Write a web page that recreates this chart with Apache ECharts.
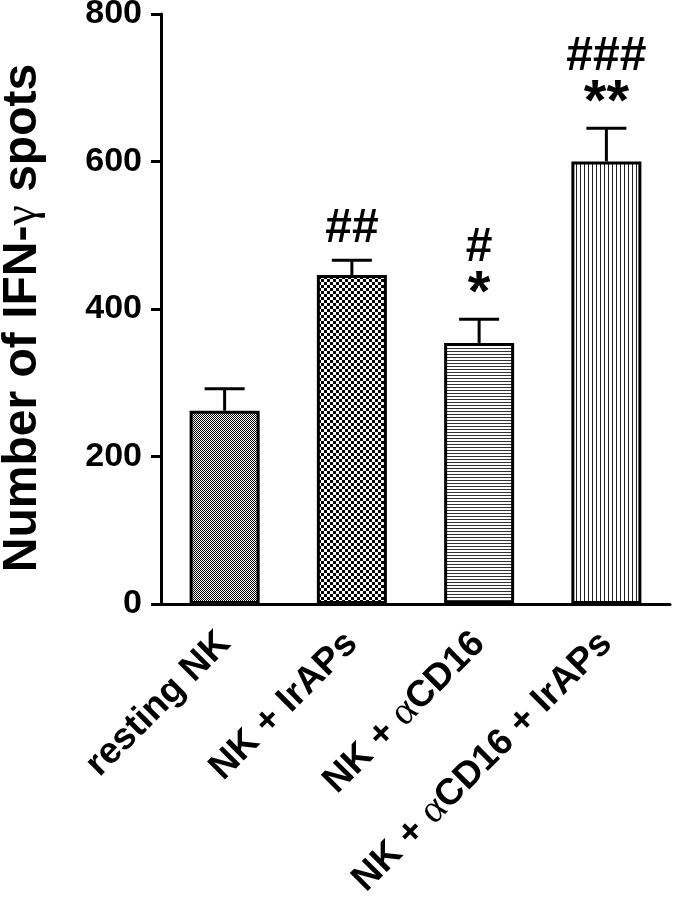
<!DOCTYPE html>
<html>
<head>
<meta charset="utf-8">
<script src="https://cdn.jsdelivr.net/npm/echarts@6/dist/echarts.min.js"></script>
<style>
  html, body { margin: 0; background: #fff; }
  #chart { width: 675px; height: 903px; }
</style>
</head>
<body>
<div id="chart"></div>
<script>
// data
const categories = ['resting NK', 'NK + IrAPs', 'NK + αCD16', 'NK + αCD16 + IrAPs'];
const means = [262, 446, 354, 600];
const sems = [30, 20, 32, 45];
const stars = ['', '', '*', '**'];
const hashes = ['', '##', '#', '###'];
const yTicks = [0, 200, 400, 600, 800];

const FONT = 'Liberation Sans';

function makePattern(kind) {
  const c = document.createElement('canvas');
  const ctx = c.getContext('2d');
  if (kind === 'fine') {
    c.width = 2; c.height = 2;
    ctx.fillStyle = '#fff'; ctx.fillRect(0, 0, 2, 2);
    ctx.fillStyle = '#000'; ctx.fillRect(0, 0, 1, 1); ctx.fillRect(1, 1, 1, 1);
  } else if (kind === 'coarse') {
    c.width = 6; c.height = 6;
    ctx.fillStyle = '#fff'; ctx.fillRect(0, 0, 6, 6);
    ctx.fillStyle = '#000'; ctx.fillRect(0, 0, 3, 3); ctx.fillRect(3, 3, 3, 3);
  } else if (kind === 'hlines') {
    c.width = 3; c.height = 3;
    ctx.fillStyle = '#fff'; ctx.fillRect(0, 0, 3, 3);
    ctx.fillStyle = '#333'; ctx.fillRect(0, 0, 3, 1);
  } else {
    c.width = 4; c.height = 4;
    ctx.fillStyle = '#fff'; ctx.fillRect(0, 0, 4, 4);
    ctx.fillStyle = '#222'; ctx.fillRect(0, 0, 1, 4);
  }
  return { image: c, repeat: 'repeat' };
}
const patterns = [makePattern('fine'), makePattern('coarse'), makePattern('hlines'), makePattern('vlines')];

const chart = echarts.init(document.getElementById('chart'));

const option = {
  backgroundColor: '#fff',
  animation: false,
  grid: { left: 161, right: 5, top: 14, bottom: 299, outerBoundsMode: 'none', containLabel: false },
  xAxis: {
    type: 'category',
    data: categories,
    axisLine: { lineStyle: { color: '#000', width: 3 } },
    axisTick: { alignWithLabel: true, length: 9, lineStyle: { color: '#000', width: 3 } },
    axisLabel: {
      rotate: 45,
      margin: 34,
      color: '#000',
      fontFamily: FONT,
      fontWeight: 'bold',
      fontSize: 37,
      formatter: v => v.replace('α', '{a|α}'),
      rich: {
        a: { fontFamily: 'Liberation Serif', fontWeight: 'normal', fontSize: 40, color: '#000' }
      }
    }
  },
  yAxis: {
    type: 'value',
    min: yTicks[0],
    max: yTicks[yTicks.length - 1],
    interval: 200,
    name: 'Number of IFN-{g|γ} spots',
    nameLocation: 'middle',
    nameGap: 114,
    nameTextStyle: {
      color: '#000',
      fontFamily: FONT,
      fontWeight: 'bold',
      fontSize: 48,
      padding: [0, 18, 0, 0],
      rich: {
        g: { fontFamily: 'Liberation Serif', fontWeight: 'normal', fontSize: 46, color: '#000' }
      }
    },
    axisLine: { show: true, lineStyle: { color: '#000', width: 3 } },
    axisTick: { show: true, length: 10, lineStyle: { color: '#000', width: 3 } },
    axisLabel: { color: '#000', fontFamily: FONT, fontWeight: 'bold', fontSize: 34, margin: 19 },
    splitLine: { show: false }
  },
  series: [
    {
      type: 'bar',
      barWidth: 70,
      data: means.map((v, i) => ({
        value: v,
        itemStyle: { color: patterns[i], borderColor: '#000', borderWidth: 3 }
      })),
      z: 2
    },
    {
      type: 'custom',
      z: 3,
      data: means.map((m, i) => [i, m, sems[i]]),
      renderItem(params, api) {
        const i = api.value(0);
        const m = api.value(1);
        const e = api.value(2);
        const base = api.coord([i, m]);
        const top = api.coord([i, m + e]);
        const hw = 20;
        const st = { stroke: '#000', lineWidth: 3 };
        const children = [
          { type: 'line', shape: { x1: top[0], y1: base[1], x2: top[0], y2: top[1] }, style: st },
          { type: 'line', shape: { x1: top[0] - hw, y1: top[1], x2: top[0] + hw, y2: top[1] }, style: st }
        ];
        let y = top[1] - 38;
        if (stars[i]) {
          children.push({
            type: 'text',
            style: {
              text: stars[i], x: top[0], y: y + 14, align: 'center', verticalAlign: 'middle',
              font: 'bold 58px ' + FONT, fill: '#000'
            }
          });
          y -= 34;
        } else {
          y += 6;
        }
        if (hashes[i]) {
          children.push({
            type: 'text',
            style: {
              text: hashes[i], x: top[0], y: y, align: 'center', verticalAlign: 'middle',
              font: 'bold 48px ' + FONT, fill: '#000'
            }
          });
        }
        return { type: 'group', children };
      }
    }
  ]
};

chart.setOption(option);
</script>
</body>
</html>
